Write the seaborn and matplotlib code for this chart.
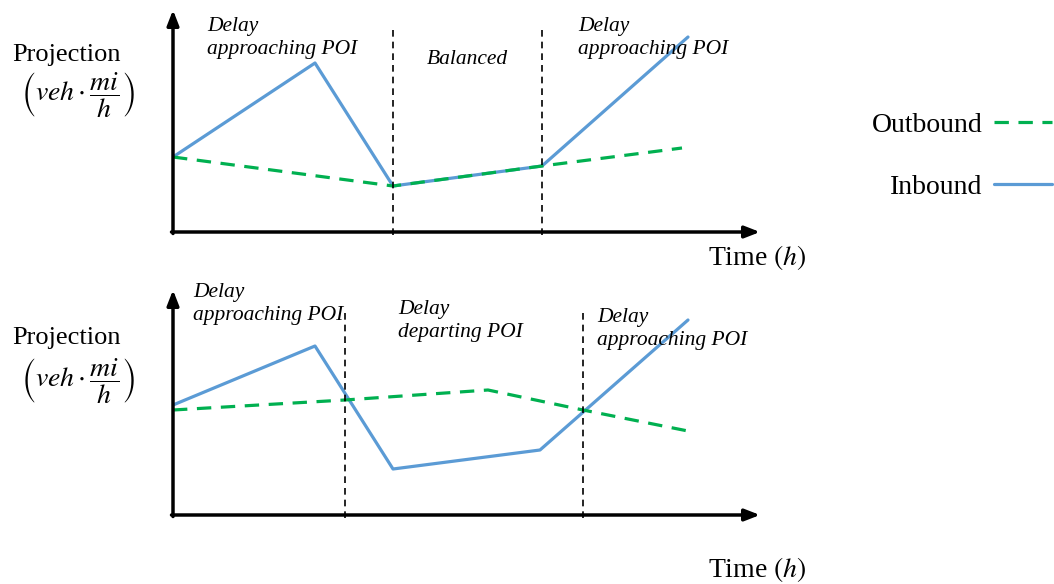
import pandas as pd
import seaborn as sns
import matplotlib.pyplot as plt
from matplotlib.lines import Line2D

sns.set_style("white")
plt.rcParams['font.family'] = ['Liberation Serif', 'DejaVu Serif']
plt.rcParams['mathtext.fontset'] = 'stix'
plt.rcParams['text.color'] = 'black'

# Schematic values (arbitrary units)
top_in_t = [0, 142, 220, 369, 515]
top_in_v = [75, 169, 46, 66, 195]
top_out_t = [0, 220, 369, 509]
top_out_v = [75, 46, 66, 84]
top_splits = [220, 369]
top_regions = ["Delay\napproaching POI", "Balanced", "Delay\napproaching POI"]

bot_in_t = [0, 142, 220, 367, 515]
bot_in_v = [110, 169, 46, 65, 195]
bot_out_t = [0, 172, 315, 410, 515]
bot_out_v = [105, 115, 125, 105, 84]
bot_splits = [172, 410]
bot_regions = ["Delay\napproaching POI", "Delay\ndeparting POI", "Delay\napproaching POI"]

BLUE = "#5B9BD5"
GREEN = "#00B050"
W, H = 1054, 584

fig = plt.figure(figsize=(W / 100, H / 100), dpi=100)


def make_axes(top_px, bottom_px):
    ax = fig.add_axes([173 / W, (H - bottom_px) / H, 587 / W, (bottom_px - top_px) / H])
    ax.set_xlim(0, 587)
    ax.set_ylim(0, bottom_px - top_px)
    ax.axis("off")
    return ax


def draw_panel(ax, in_t, in_v, out_t, out_v, splits, split_tops, regions, text_pos):
    df_in = pd.DataFrame({"t": in_t, "v": in_v})
    df_out = pd.DataFrame({"t": out_t, "v": out_v})
    sns.lineplot(data=df_in, x="t", y="v", ax=ax, color=BLUE, lw=2.3, sort=False)
    sns.lineplot(data=df_out, x="t", y="v", ax=ax, color=GREEN, lw=2.3, sort=False,
                 dashes=False, linestyle=(0, (4.5, 3)))
    for x, ytop in zip(splits, split_tops):
        ax.plot([x, x], [-3, ytop], color="black", lw=1.2, ls=(0, (4, 3)), clip_on=False)
    ymax = ax.get_ylim()[1]
    arrow = dict(arrowstyle="-|>,head_length=0.9,head_width=0.35", lw=2.5, color="black",
                 shrinkA=0, shrinkB=0)
    ax.annotate("", xy=(0, ymax), xytext=(0, -1.5), arrowprops=arrow, annotation_clip=False)
    ax.annotate("", xy=(587, 0), xytext=(-1.5, 0), arrowprops=arrow, annotation_clip=False)
    for label, (x, y) in zip(regions, text_pos):
        ax.text(x, y, label, fontsize=15.5, style="italic", va="top", ha="left",
                linespacing=1.3)
    ax.set_xlabel("")
    ax.set_ylabel("")


ax1 = make_axes(10, 232)
draw_panel(ax1, top_in_t, top_in_v, top_out_t, top_out_v, top_splits, [205, 202],
           top_regions, [(34, 215), (254, 182), (405, 215)])

ax2 = make_axes(290, 515)
draw_panel(ax2, bot_in_t, bot_in_v, bot_out_t, bot_out_v, bot_splits, [207, 207],
           bot_regions, [(20, 232), (225, 215), (424, 207)])

# axis labels
for y_proj, y_math, y_time in [(55, 95, 258), (338, 381, 569)]:
    fig.text(66 / W, 1 - y_proj / H, "Projection", fontsize=19, ha="center", va="center")
    fig.text(78 / W, 1 - y_math / H, r"$\left(veh\cdot\dfrac{mi}{h}\right)$", fontsize=20,
             ha="center", va="center")
    fig.text(757 / W, 1 - y_time / H, r"Time $(h)$", fontsize=20, ha="center", va="center")

handles = [Line2D([], [], color=GREEN, lw=2.3, ls=(0, (4.5, 3))),
           Line2D([], [], color=BLUE, lw=2.3)]
fig.legend(handles, ["Outbound", "Inbound"], loc="center left", markerfirst=False,
           frameon=False, fontsize=20, handlelength=2.1, handletextpad=0.4,
           labelspacing=1.3, borderpad=0, borderaxespad=0,
           bbox_to_anchor=(872 / W, 1 - 156 / H))

fig.savefig("out.png", dpi=100)
